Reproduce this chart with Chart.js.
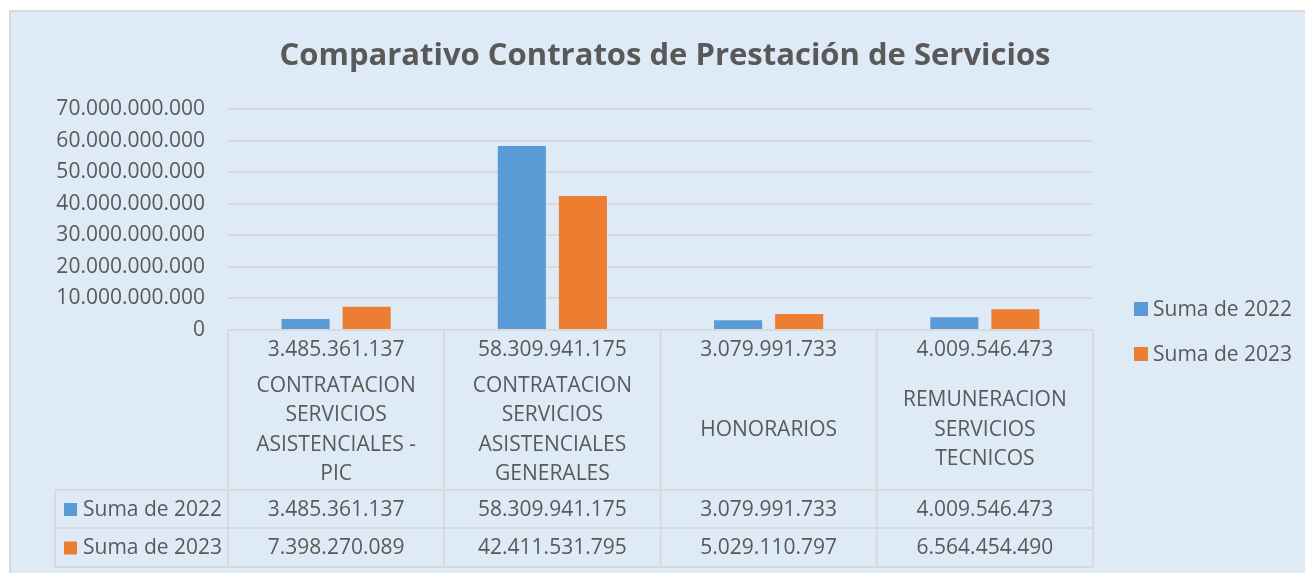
<!DOCTYPE html>
<html>
<head>
<meta charset="utf-8">
<script src="https://cdn.jsdelivr.net/npm/chart.js@4.4.0/dist/chart.umd.min.js"></script>
<style>
  body { margin: 0; background: #ffffff; }
  canvas { display: block; }
</style>
</head>
<body>
<canvas id="myChart" width="1305" height="573"></canvas>
<script>
// data
const categories = [
    ['CONTRATACION', 'SERVICIOS', 'ASISTENCIALES -', 'PIC'],
    ['CONTRATACION', 'SERVICIOS', 'ASISTENCIALES', 'GENERALES'],
    ['HONORARIOS'],
    ['REMUNERACION', 'SERVICIOS', 'TECNICOS']
];
const seriesNames = ['Suma de 2022', 'Suma de 2023'];
const suma2022 = [3485361137, 58309941175, 3079991733, 4009546473];
const suma2023 = [7398270089, 42411531795, 5029110797, 6564454490];
const yTickValues = [0, 10000000000, 20000000000, 30000000000, 40000000000, 50000000000, 60000000000, 70000000000];

const colors = ['#5B9BD5', '#ED7D31'];
const textColor = '#595959';
const lineColor = '#D9D9D9';
const fontFam = "'Open Sans', sans-serif";

function fmt(v) {
    return String(Math.round(v)).replace(/\B(?=(\d{3})+(?!\d))/g, '.');
}

// background, title, legend and data table
const excelLook = {
    id: 'excelLook',
    beforeDraw(chart) {
        const c = chart.ctx;
        c.save();
        c.fillStyle = '#DEEBF7';
        c.fillRect(10, 11, chart.width - 10, chart.height - 11);
        c.strokeStyle = lineColor;
        c.lineWidth = 2;
        c.strokeRect(10, 11, chart.width - 9, chart.height - 9);
        c.restore();
    },
    afterDraw(chart) {
        const c = chart.ctx;
        const area = chart.chartArea;
        const x = chart.scales.x;
        const n = categories.length;
        const colW = (area.right - area.left) / n;
        const tableLeft = 55;
        const rowTop = area.bottom;
        const row1 = 490, row2 = 528, row3 = 567;

        c.save();
        // title
        c.fillStyle = textColor;
        c.font = "bold 31px " + fontFam;
        c.textAlign = 'center';
        c.textBaseline = 'middle';
        c.fillText('Comparativo Contratos de Prestación de Servicios', 665, 56);

        // legend
        c.font = "21px " + fontFam;
        c.textAlign = 'left';
        [309, 354].forEach((ly, i) => {
            c.fillStyle = colors[i];
            c.fillRect(1134, ly - 7, 14, 14);
            c.fillStyle = textColor;
            c.fillText(seriesNames[i], 1153, ly + 1);
        });

        // table grid
        c.strokeStyle = lineColor;
        c.lineWidth = 2;
        c.beginPath();
        c.moveTo(area.left, rowTop); c.lineTo(area.right, rowTop);
        [row1, row2, row3].forEach(ry => { c.moveTo(tableLeft, ry); c.lineTo(area.right, ry); });
        for (let i = 0; i <= n; i++) {
            const vx = area.left + i * colW;
            c.moveTo(vx, rowTop); c.lineTo(vx, row3);
        }
        c.moveTo(tableLeft, row1); c.lineTo(tableLeft, row3);
        c.stroke();

        // category cells
        c.textAlign = 'center';
        c.fillStyle = textColor;
        categories.forEach((lines, i) => {
            const cx = x.getPixelForValue(i);
            c.fillText(fmt(suma2022[i]), cx, 350);
            const lh = 29.5;
            const y0 = 430 - (lines.length - 1) * lh / 2;
            lines.forEach((t, j) => c.fillText(t, cx, y0 + j * lh));
        });

        // series rows
        const rows = [[suma2022, (row1 + row2) / 2], [suma2023, (row2 + row3) / 2]];
        rows.forEach((r, k) => {
            const vals = r[0], ry = r[1];
            c.fillStyle = colors[k];
            c.fillRect(64, ry - 6, 13, 13);
            c.fillStyle = textColor;
            c.textAlign = 'left';
            c.fillText(seriesNames[k], 83, ry + 1);
            c.textAlign = 'center';
            vals.forEach((v, i) => c.fillText(fmt(v), x.getPixelForValue(i), ry + 1));
        });
        c.restore();
    }
};

var ctx = document.getElementById('myChart').getContext('2d');
var myChart = new Chart(ctx, {
    type: 'bar',
    data: {
        labels: categories,
        datasets: [{
            label: seriesNames[0],
            data: suma2022,
            backgroundColor: colors[0],
            categoryPercentage: 0.565,
            barPercentage: 0.787
        }, {
            label: seriesNames[1],
            data: suma2023,
            backgroundColor: colors[1],
            categoryPercentage: 0.565,
            barPercentage: 0.787
        }]
    },
    options: {
        responsive: false,
        animation: false,
        layout: {
            padding: { left: 10, top: 109, right: 212, bottom: 243 }
        },
        plugins: {
            legend: { display: false },
            title: { display: false },
            tooltip: { enabled: false }
        },
        scales: {
            x: { display: false },
            y: {
                min: 0,
                max: 70000000000,
                afterFit: function (s) { s.width = 218; },
                afterBuildTicks: function (s) { s.ticks = yTickValues.map(v => ({ value: v })); },
                border: { display: false },
                grid: { color: lineColor, lineWidth: 2, drawTicks: false },
                ticks: {
                    padding: 23,
                    color: textColor,
                    font: { family: fontFam, size: 21 },
                    callback: function (v) { return fmt(v); }
                }
            }
        }
    },
    plugins: [excelLook]
});
</script>
</body>
</html>
